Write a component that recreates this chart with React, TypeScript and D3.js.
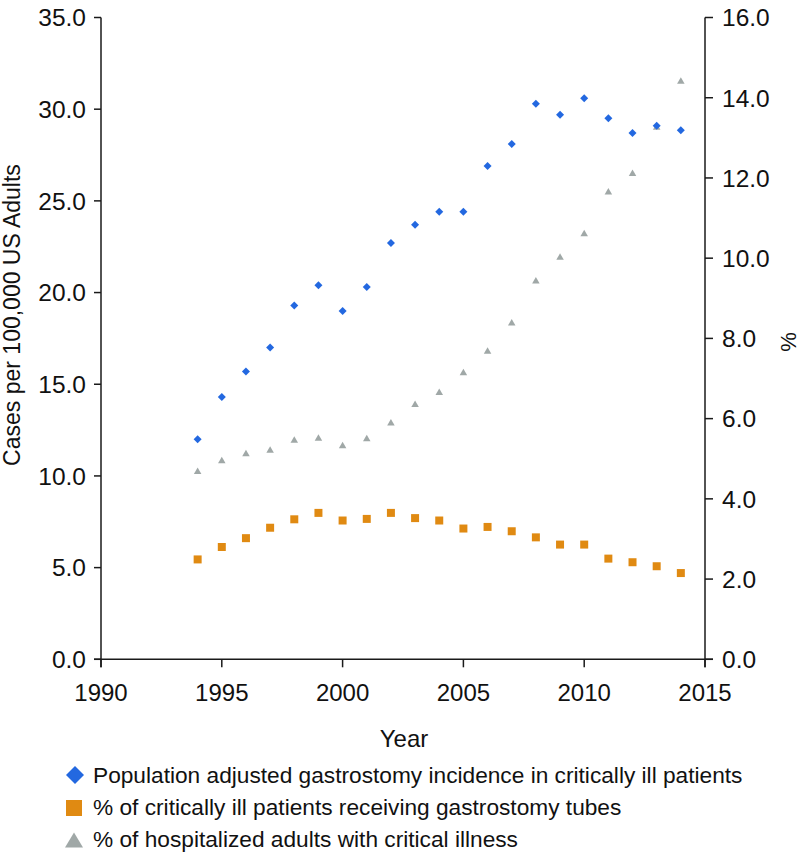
import React from "react";
import * as d3 from "d3";

const years = [1994, 1995, 1996, 1997, 1998, 1999, 2000, 2001, 2002, 2003, 2004, 2005, 2006, 2007, 2008, 2009, 2010, 2011, 2012, 2013, 2014];
const incidence = [12.0, 14.3, 15.7, 17.0, 19.3, 20.4, 19.0, 20.3, 22.7, 23.7, 24.4, 24.4, 26.9, 28.1, 30.3, 29.7, 30.6, 29.5, 28.7, 29.1, 28.85];
const pctTubes = [2.49, 2.8, 3.02, 3.28, 3.49, 3.65, 3.46, 3.5, 3.65, 3.52, 3.46, 3.26, 3.3, 3.19, 3.04, 2.86, 2.86, 2.51, 2.42, 2.32, 2.15];
const pctCritical = [4.7, 4.97, 5.14, 5.23, 5.48, 5.53, 5.34, 5.52, 5.91, 6.37, 6.67, 7.16, 7.7, 8.4, 9.45, 10.04, 10.63, 11.67, 12.13, 13.28, 14.43];

const xTicks = [1990, 1995, 2000, 2005, 2010, 2015];
const leftTicks = [0, 5, 10, 15, 20, 25, 30, 35];
const rightTicks = [0, 2, 4, 6, 8, 10, 12, 14, 16];

const legendLabels = [
  "Population adjusted gastrostomy incidence in critically ill patients",
  "% of critically ill patients receiving gastrostomy tubes",
  "% of hospitalized adults with critical illness",
];

const BLUE = "#2368e0";
const ORANGE = "#e08a12";
const GRAY = "#a0a8a7";
const AXIS = "#1a1a1a";
const FONT = "'Liberation Sans', Arial, Helvetica, sans-serif";

const diamond = (cx: number, cy: number, r: number) =>
  `M${cx},${cy - r}L${cx + r},${cy}L${cx},${cy + r}L${cx - r},${cy}Z`;
const square = (cx: number, cy: number, s: number) =>
  `M${cx - s / 2},${cy - s / 2}h${s}v${s}h${-s}Z`;
const triangle = (cx: number, cy: number, w: number, h: number) =>
  `M${cx},${cy - h / 2}L${cx + w / 2},${cy + h / 2}L${cx - w / 2},${cy + h / 2}Z`;

export default function App() {
  const left = 101;
  const right = 705;
  const top = 17.5;
  const bottom = 659.3;

  const x = d3.scaleLinear().domain([1990, 2015]).range([left, right]);
  const yL = d3.scaleLinear().domain([0, 35]).range([bottom, top]);
  const yR = d3.scaleLinear().domain([0, 16]).range([bottom, top]);

  return (
    <svg width={809} height={855} style={{ position: "absolute", left: 0, top: 0 }} fontFamily={FONT}>
      <rect width={809} height={855} fill="#fff" />
      {/* axes lines */}
      <line x1={left} x2={left} y1={top} y2={bottom + 8} stroke={AXIS} strokeWidth={1.5} />
      <line x1={right} x2={right} y1={top} y2={bottom + 8} stroke={AXIS} strokeWidth={1.5} />
      <line x1={left - 7} x2={right + 8} y1={bottom} y2={bottom} stroke={AXIS} strokeWidth={1.5} />

      {/* left ticks */}
      {leftTicks.map((t) => (
        <g key={"l" + t}>
          <line x1={left - 7} x2={left} y1={yL(t)} y2={yL(t)} stroke={AXIS} strokeWidth={1.5} />
          <text x={left - 15} y={yL(t)} dy="0.36em" textAnchor="end" fontSize={24.5} fill="#111">
            {d3.format(".1f")(t)}
          </text>
        </g>
      ))}
      {/* right ticks */}
      {rightTicks.map((t) => (
        <g key={"r" + t}>
          <line x1={right} x2={right + 8} y1={yR(t)} y2={yR(t)} stroke={AXIS} strokeWidth={1.5} />
          <text x={right + 17} y={yR(t)} dy="0.36em" textAnchor="start" fontSize={24.5} fill="#111">
            {d3.format(".1f")(t)}
          </text>
        </g>
      ))}
      {/* x ticks */}
      {xTicks.map((t) => (
        <g key={"x" + t}>
          <line x1={x(t)} x2={x(t)} y1={bottom} y2={bottom + 8} stroke={AXIS} strokeWidth={1.5} />
          <text x={x(t)} y={701} textAnchor="middle" fontSize={24} fill="#111">
            {t}
          </text>
        </g>
      ))}

      {/* axis titles */}
      <text x={404} y={747} textAnchor="middle" fontSize={24} fill="#111">Year</text>
      <text transform={`translate(20,315) rotate(-90)`} textAnchor="middle" fontSize={23} fill="#111">
        Cases per 100,000 US Adults
      </text>
      <text transform={`translate(796,342) rotate(-90)`} textAnchor="middle" fontSize={22} fill="#111">%</text>

      {/* data */}
      {years.map((yr, i) => (
        <path key={"g" + yr} d={triangle(x(yr), yR(pctCritical[i]), 7.5, 6.5)} fill={GRAY} />
      ))}
      {years.map((yr, i) => (
        <path key={"o" + yr} d={square(x(yr), yR(pctTubes[i]), 8)} fill={ORANGE} />
      ))}
      {years.map((yr, i) => (
        <path key={"b" + yr} d={diamond(x(yr), yL(incidence[i]), 4)} fill={BLUE} />
      ))}

      {/* legend */}
      <path d={diamond(75, 775, 9)} fill={BLUE} />
      <path d={square(74, 808, 16)} fill={ORANGE} />
      <path d={triangle(74, 840, 18, 15)} fill={GRAY} />
      {legendLabels.map((lab, i) => (
        <text key={lab} x={93} y={783 + i * 32} fontSize={22.7} fill="#111">
          {lab}
        </text>
      ))}
    </svg>
  );
}
